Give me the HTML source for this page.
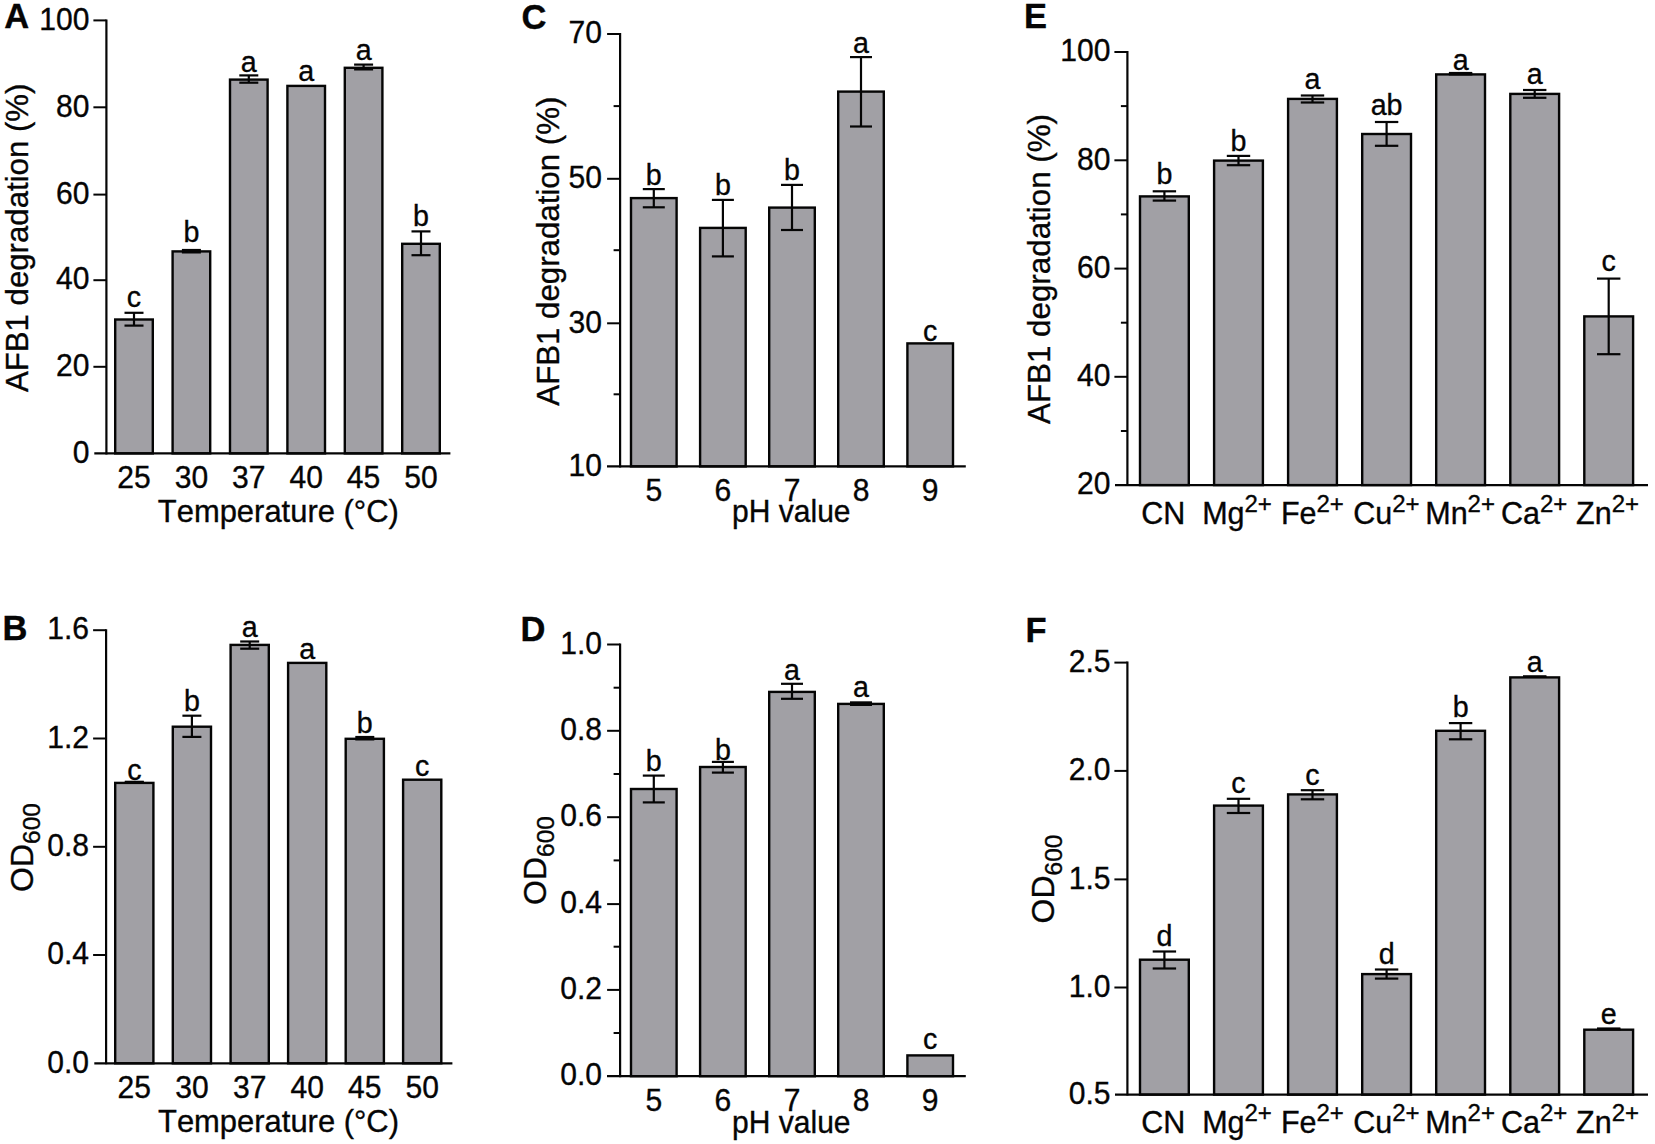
<!DOCTYPE html>
<html lang="en">
<head>
<meta charset="utf-8">
<title>AFB1 degradation and growth under different temperature, pH and metal ions</title>
<style>
html,body{margin:0;padding:0;background:#fff;}
body{width:1655px;height:1144px;overflow:hidden;}
svg{display:block;}
svg text{font-family:"Liberation Sans",Arial,Helvetica,sans-serif;fill:#050505;stroke:#050505;stroke-width:0.35px;font-kerning:none;}
</style>
</head>
<body>
<svg width="1655" height="1144" viewBox="0 0 1655 1144">
<rect x="0" y="0" width="1655" height="1144" fill="#ffffff"/>
<g class="panel-A">
<rect x="115.2" y="319.5" width="37.6" height="133.9" fill="#a1a0a5" stroke="#050505" stroke-width="2.4"/>
<line x1="134.0" y1="312.8" x2="134.0" y2="325.6" stroke="#050505" stroke-width="2.2"/>
<line x1="124.5" y1="312.8" x2="143.5" y2="312.8" stroke="#050505" stroke-width="2.2"/>
<line x1="124.5" y1="325.6" x2="143.5" y2="325.6" stroke="#050505" stroke-width="2.2"/>
<text transform="translate(134.0,307.0) scale(0.955,1)" font-size="30" text-anchor="middle">c</text>
<rect x="172.6" y="251.4" width="37.6" height="202.0" fill="#a1a0a5" stroke="#050505" stroke-width="2.4"/>
<line x1="191.4" y1="250.0" x2="191.4" y2="252.4" stroke="#050505" stroke-width="2.2"/>
<line x1="181.9" y1="250.0" x2="200.9" y2="250.0" stroke="#050505" stroke-width="2.2"/>
<line x1="181.9" y1="252.4" x2="200.9" y2="252.4" stroke="#050505" stroke-width="2.2"/>
<text transform="translate(191.4,241.8) scale(0.955,1)" font-size="30" text-anchor="middle">b</text>
<rect x="230.0" y="79.6" width="37.6" height="373.8" fill="#a1a0a5" stroke="#050505" stroke-width="2.4"/>
<line x1="248.8" y1="75.4" x2="248.8" y2="82.7" stroke="#050505" stroke-width="2.2"/>
<line x1="239.3" y1="75.4" x2="258.3" y2="75.4" stroke="#050505" stroke-width="2.2"/>
<line x1="239.3" y1="82.7" x2="258.3" y2="82.7" stroke="#050505" stroke-width="2.2"/>
<text transform="translate(248.8,72.0) scale(0.955,1)" font-size="30" text-anchor="middle">a</text>
<rect x="287.4" y="85.9" width="37.6" height="367.5" fill="#a1a0a5" stroke="#050505" stroke-width="2.4"/>
<text transform="translate(306.2,80.7) scale(0.955,1)" font-size="30" text-anchor="middle">a</text>
<rect x="344.8" y="67.8" width="37.6" height="385.6" fill="#a1a0a5" stroke="#050505" stroke-width="2.4"/>
<line x1="363.6" y1="64.6" x2="363.6" y2="69.4" stroke="#050505" stroke-width="2.2"/>
<line x1="354.1" y1="64.6" x2="373.1" y2="64.6" stroke="#050505" stroke-width="2.2"/>
<line x1="354.1" y1="69.4" x2="373.1" y2="69.4" stroke="#050505" stroke-width="2.2"/>
<text transform="translate(363.6,59.5) scale(0.955,1)" font-size="30" text-anchor="middle">a</text>
<rect x="402.2" y="243.8" width="37.6" height="209.6" fill="#a1a0a5" stroke="#050505" stroke-width="2.4"/>
<line x1="421.0" y1="231.4" x2="421.0" y2="255.2" stroke="#050505" stroke-width="2.2"/>
<line x1="411.5" y1="231.4" x2="430.5" y2="231.4" stroke="#050505" stroke-width="2.2"/>
<line x1="411.5" y1="255.2" x2="430.5" y2="255.2" stroke="#050505" stroke-width="2.2"/>
<text transform="translate(421.0,226.2) scale(0.955,1)" font-size="30" text-anchor="middle">b</text>
<line x1="106.4" y1="19.4" x2="106.4" y2="454.4" stroke="#050505" stroke-width="2.2"/>
<line x1="94.3" y1="453.4" x2="450.4" y2="453.4" stroke="#050505" stroke-width="2.2"/>
<text transform="translate(89.5,462.6) scale(0.955,1)" font-size="31.5" text-anchor="end">0</text>
<line x1="93.4" y1="366.8" x2="106.4" y2="366.8" stroke="#050505" stroke-width="2.0"/>
<text transform="translate(89.5,376.0) scale(0.955,1)" font-size="31.5" text-anchor="end">20</text>
<line x1="93.4" y1="280.2" x2="106.4" y2="280.2" stroke="#050505" stroke-width="2.0"/>
<text transform="translate(89.5,289.4) scale(0.955,1)" font-size="31.5" text-anchor="end">40</text>
<line x1="93.4" y1="194.6" x2="106.4" y2="194.6" stroke="#050505" stroke-width="2.0"/>
<text transform="translate(89.5,203.8) scale(0.955,1)" font-size="31.5" text-anchor="end">60</text>
<line x1="93.4" y1="107.3" x2="106.4" y2="107.3" stroke="#050505" stroke-width="2.0"/>
<text transform="translate(89.5,116.5) scale(0.955,1)" font-size="31.5" text-anchor="end">80</text>
<line x1="93.4" y1="20.4" x2="106.4" y2="20.4" stroke="#050505" stroke-width="2.0"/>
<text transform="translate(89.5,29.6) scale(0.955,1)" font-size="31.5" text-anchor="end">100</text>
<text transform="translate(134.0,488.0) scale(0.955,1)" font-size="31.5" text-anchor="middle">25</text>
<text transform="translate(191.4,488.0) scale(0.955,1)" font-size="31.5" text-anchor="middle">30</text>
<text transform="translate(248.8,488.0) scale(0.955,1)" font-size="31.5" text-anchor="middle">37</text>
<text transform="translate(306.2,488.0) scale(0.955,1)" font-size="31.5" text-anchor="middle">40</text>
<text transform="translate(363.6,488.0) scale(0.955,1)" font-size="31.5" text-anchor="middle">45</text>
<text transform="translate(421.0,488.0) scale(0.955,1)" font-size="31.5" text-anchor="middle">50</text>
<text transform="translate(278.3,521.5) scale(0.955,1)" font-size="32" text-anchor="middle" textLength="252.4" lengthAdjust="spacingAndGlyphs">Temperature (°C)</text>
<text transform="translate(27.8,237.8) rotate(-90) scale(1,0.955)" font-size="32" text-anchor="middle" textLength="308.5" lengthAdjust="spacingAndGlyphs">AFB1 degradation (%)</text>
<text x="4.2" y="28.4" font-size="34.5" font-weight="bold" text-anchor="start">A</text>
</g>
<g class="panel-B">
<rect x="115.2" y="782.9" width="38.2" height="280.4" fill="#a1a0a5" stroke="#050505" stroke-width="2.4"/>
<line x1="134.3" y1="781.8" x2="134.3" y2="782.4" stroke="#050505" stroke-width="2.2"/>
<line x1="124.8" y1="781.8" x2="143.8" y2="781.8" stroke="#050505" stroke-width="2.2"/>
<line x1="124.8" y1="782.4" x2="143.8" y2="782.4" stroke="#050505" stroke-width="2.2"/>
<text transform="translate(134.3,779.7) scale(0.955,1)" font-size="30" text-anchor="middle">c</text>
<rect x="172.8" y="726.7" width="38.2" height="336.6" fill="#a1a0a5" stroke="#050505" stroke-width="2.4"/>
<line x1="191.9" y1="715.7" x2="191.9" y2="736.9" stroke="#050505" stroke-width="2.2"/>
<line x1="182.4" y1="715.7" x2="201.4" y2="715.7" stroke="#050505" stroke-width="2.2"/>
<line x1="182.4" y1="736.9" x2="201.4" y2="736.9" stroke="#050505" stroke-width="2.2"/>
<text transform="translate(191.9,711.0) scale(0.955,1)" font-size="30" text-anchor="middle">b</text>
<rect x="230.6" y="644.9" width="38.2" height="418.4" fill="#a1a0a5" stroke="#050505" stroke-width="2.4"/>
<line x1="249.7" y1="641.5" x2="249.7" y2="648.7" stroke="#050505" stroke-width="2.2"/>
<line x1="240.2" y1="641.5" x2="259.2" y2="641.5" stroke="#050505" stroke-width="2.2"/>
<line x1="240.2" y1="648.7" x2="259.2" y2="648.7" stroke="#050505" stroke-width="2.2"/>
<text transform="translate(249.7,636.5) scale(0.955,1)" font-size="30" text-anchor="middle">a</text>
<rect x="288.1" y="662.9" width="38.2" height="400.4" fill="#a1a0a5" stroke="#050505" stroke-width="2.4"/>
<text transform="translate(307.2,658.5) scale(0.955,1)" font-size="30" text-anchor="middle">a</text>
<rect x="345.7" y="738.8" width="38.2" height="324.5" fill="#a1a0a5" stroke="#050505" stroke-width="2.4"/>
<line x1="364.8" y1="737.0" x2="364.8" y2="739.4" stroke="#050505" stroke-width="2.2"/>
<line x1="355.3" y1="737.0" x2="374.3" y2="737.0" stroke="#050505" stroke-width="2.2"/>
<line x1="355.3" y1="739.4" x2="374.3" y2="739.4" stroke="#050505" stroke-width="2.2"/>
<text transform="translate(364.8,733.2) scale(0.955,1)" font-size="30" text-anchor="middle">b</text>
<rect x="403.1" y="779.7" width="38.2" height="283.6" fill="#a1a0a5" stroke="#050505" stroke-width="2.4"/>
<text transform="translate(422.2,776.4) scale(0.955,1)" font-size="30" text-anchor="middle">c</text>
<line x1="106.1" y1="629.2" x2="106.1" y2="1064.3" stroke="#050505" stroke-width="2.2"/>
<line x1="94.3" y1="1063.3" x2="452.4" y2="1063.3" stroke="#050505" stroke-width="2.2"/>
<text transform="translate(89.0,1072.5) scale(0.955,1)" font-size="31.5" text-anchor="end">0.0</text>
<line x1="93.1" y1="955.0" x2="106.1" y2="955.0" stroke="#050505" stroke-width="2.0"/>
<text transform="translate(89.0,964.2) scale(0.955,1)" font-size="31.5" text-anchor="end">0.4</text>
<line x1="93.1" y1="846.8" x2="106.1" y2="846.8" stroke="#050505" stroke-width="2.0"/>
<text transform="translate(89.0,856.0) scale(0.955,1)" font-size="31.5" text-anchor="end">0.8</text>
<line x1="93.1" y1="738.5" x2="106.1" y2="738.5" stroke="#050505" stroke-width="2.0"/>
<text transform="translate(89.0,747.7) scale(0.955,1)" font-size="31.5" text-anchor="end">1.2</text>
<line x1="93.1" y1="630.2" x2="106.1" y2="630.2" stroke="#050505" stroke-width="2.0"/>
<text transform="translate(89.0,639.4) scale(0.955,1)" font-size="31.5" text-anchor="end">1.6</text>
<text transform="translate(134.3,1097.7) scale(0.955,1)" font-size="31.5" text-anchor="middle">25</text>
<text transform="translate(191.9,1097.7) scale(0.955,1)" font-size="31.5" text-anchor="middle">30</text>
<text transform="translate(249.7,1097.7) scale(0.955,1)" font-size="31.5" text-anchor="middle">37</text>
<text transform="translate(307.2,1097.7) scale(0.955,1)" font-size="31.5" text-anchor="middle">40</text>
<text transform="translate(364.8,1097.7) scale(0.955,1)" font-size="31.5" text-anchor="middle">45</text>
<text transform="translate(422.2,1097.7) scale(0.955,1)" font-size="31.5" text-anchor="middle">50</text>
<text transform="translate(278.5,1131.5) scale(0.955,1)" font-size="32" text-anchor="middle" textLength="252.4" lengthAdjust="spacingAndGlyphs">Temperature (°C)</text>
<text transform="translate(33.0,847.5) rotate(-90) scale(1,0.955)" font-size="32" text-anchor="middle">OD<tspan font-size="24.5" dy="7.8">600</tspan></text>
<text x="2.5" y="639.7" font-size="34.5" font-weight="bold" text-anchor="start">B</text>
</g>
<g class="panel-C">
<rect x="631.0" y="198.1" width="45.6" height="268.3" fill="#a1a0a5" stroke="#050505" stroke-width="2.4"/>
<line x1="653.8" y1="189.1" x2="653.8" y2="207.3" stroke="#050505" stroke-width="2.2"/>
<line x1="642.8" y1="189.1" x2="664.8" y2="189.1" stroke="#050505" stroke-width="2.2"/>
<line x1="642.8" y1="207.3" x2="664.8" y2="207.3" stroke="#050505" stroke-width="2.2"/>
<text transform="translate(653.8,184.5) scale(0.955,1)" font-size="30" text-anchor="middle">b</text>
<rect x="700.1" y="227.9" width="45.6" height="238.5" fill="#a1a0a5" stroke="#050505" stroke-width="2.4"/>
<line x1="722.9" y1="199.9" x2="722.9" y2="256.4" stroke="#050505" stroke-width="2.2"/>
<line x1="711.9" y1="199.9" x2="733.9" y2="199.9" stroke="#050505" stroke-width="2.2"/>
<line x1="711.9" y1="256.4" x2="733.9" y2="256.4" stroke="#050505" stroke-width="2.2"/>
<text transform="translate(722.9,195.2) scale(0.955,1)" font-size="30" text-anchor="middle">b</text>
<rect x="769.2" y="207.6" width="45.6" height="258.8" fill="#a1a0a5" stroke="#050505" stroke-width="2.4"/>
<line x1="792.0" y1="184.9" x2="792.0" y2="230.0" stroke="#050505" stroke-width="2.2"/>
<line x1="781.0" y1="184.9" x2="803.0" y2="184.9" stroke="#050505" stroke-width="2.2"/>
<line x1="781.0" y1="230.0" x2="803.0" y2="230.0" stroke="#050505" stroke-width="2.2"/>
<text transform="translate(792.0,179.5) scale(0.955,1)" font-size="30" text-anchor="middle">b</text>
<rect x="838.2" y="91.6" width="45.6" height="374.8" fill="#a1a0a5" stroke="#050505" stroke-width="2.4"/>
<line x1="861.0" y1="57.1" x2="861.0" y2="126.5" stroke="#050505" stroke-width="2.2"/>
<line x1="850.0" y1="57.1" x2="872.0" y2="57.1" stroke="#050505" stroke-width="2.2"/>
<line x1="850.0" y1="126.5" x2="872.0" y2="126.5" stroke="#050505" stroke-width="2.2"/>
<text transform="translate(861.0,53.2) scale(0.955,1)" font-size="30" text-anchor="middle">a</text>
<rect x="907.4" y="343.4" width="45.6" height="123.0" fill="#a1a0a5" stroke="#050505" stroke-width="2.4"/>
<text transform="translate(930.1,341.2) scale(0.955,1)" font-size="30" text-anchor="middle">c</text>
<line x1="620.1" y1="33.0" x2="620.1" y2="467.4" stroke="#050505" stroke-width="2.2"/>
<line x1="607.0" y1="466.4" x2="965.8" y2="466.4" stroke="#050505" stroke-width="2.2"/>
<text transform="translate(602.0,475.6) scale(0.955,1)" font-size="31.5" text-anchor="end">10</text>
<line x1="607.1" y1="323.3" x2="620.1" y2="323.3" stroke="#050505" stroke-width="2.0"/>
<text transform="translate(602.0,332.5) scale(0.955,1)" font-size="31.5" text-anchor="end">30</text>
<line x1="607.1" y1="178.8" x2="620.1" y2="178.8" stroke="#050505" stroke-width="2.0"/>
<text transform="translate(602.0,188.0) scale(0.955,1)" font-size="31.5" text-anchor="end">50</text>
<line x1="607.1" y1="34.0" x2="620.1" y2="34.0" stroke="#050505" stroke-width="2.0"/>
<text transform="translate(602.0,43.2) scale(0.955,1)" font-size="31.5" text-anchor="end">70</text>
<line x1="613.6" y1="394.3" x2="620.1" y2="394.3" stroke="#050505" stroke-width="2.0"/>
<line x1="613.6" y1="250.2" x2="620.1" y2="250.2" stroke="#050505" stroke-width="2.0"/>
<line x1="613.6" y1="106.1" x2="620.1" y2="106.1" stroke="#050505" stroke-width="2.0"/>
<text transform="translate(653.8,500.9) scale(0.955,1)" font-size="31.5" text-anchor="middle">5</text>
<text transform="translate(722.9,500.9) scale(0.955,1)" font-size="31.5" text-anchor="middle">6</text>
<text transform="translate(792.0,500.9) scale(0.955,1)" font-size="31.5" text-anchor="middle">7</text>
<text transform="translate(861.0,500.9) scale(0.955,1)" font-size="31.5" text-anchor="middle">8</text>
<text transform="translate(930.1,500.9) scale(0.955,1)" font-size="31.5" text-anchor="middle">9</text>
<text transform="translate(791.3,521.7) scale(0.955,1)" font-size="32" text-anchor="middle" textLength="124.1" lengthAdjust="spacingAndGlyphs">pH value</text>
<text transform="translate(558.7,251.2) rotate(-90) scale(1,0.955)" font-size="32" text-anchor="middle" textLength="309.0" lengthAdjust="spacingAndGlyphs">AFB1 degradation (%)</text>
<text x="521.5" y="28.8" font-size="34.5" font-weight="bold" text-anchor="start">C</text>
</g>
<g class="panel-D">
<rect x="631.0" y="789.0" width="45.6" height="287.2" fill="#a1a0a5" stroke="#050505" stroke-width="2.4"/>
<line x1="653.8" y1="775.6" x2="653.8" y2="802.4" stroke="#050505" stroke-width="2.2"/>
<line x1="642.8" y1="775.6" x2="664.8" y2="775.6" stroke="#050505" stroke-width="2.2"/>
<line x1="642.8" y1="802.4" x2="664.8" y2="802.4" stroke="#050505" stroke-width="2.2"/>
<text transform="translate(653.8,770.9) scale(0.955,1)" font-size="30" text-anchor="middle">b</text>
<rect x="700.1" y="767.0" width="45.6" height="309.2" fill="#a1a0a5" stroke="#050505" stroke-width="2.4"/>
<line x1="722.9" y1="761.9" x2="722.9" y2="772.6" stroke="#050505" stroke-width="2.2"/>
<line x1="711.9" y1="761.9" x2="733.9" y2="761.9" stroke="#050505" stroke-width="2.2"/>
<line x1="711.9" y1="772.6" x2="733.9" y2="772.6" stroke="#050505" stroke-width="2.2"/>
<text transform="translate(722.9,760.1) scale(0.955,1)" font-size="30" text-anchor="middle">b</text>
<rect x="769.2" y="691.9" width="45.6" height="384.3" fill="#a1a0a5" stroke="#050505" stroke-width="2.4"/>
<line x1="792.0" y1="683.8" x2="792.0" y2="698.8" stroke="#050505" stroke-width="2.2"/>
<line x1="781.0" y1="683.8" x2="803.0" y2="683.8" stroke="#050505" stroke-width="2.2"/>
<line x1="781.0" y1="698.8" x2="803.0" y2="698.8" stroke="#050505" stroke-width="2.2"/>
<text transform="translate(792.0,679.9) scale(0.955,1)" font-size="30" text-anchor="middle">a</text>
<rect x="838.2" y="703.9" width="45.6" height="372.3" fill="#a1a0a5" stroke="#050505" stroke-width="2.4"/>
<line x1="861.0" y1="702.4" x2="861.0" y2="704.9" stroke="#050505" stroke-width="2.2"/>
<line x1="850.0" y1="702.4" x2="872.0" y2="702.4" stroke="#050505" stroke-width="2.2"/>
<line x1="850.0" y1="704.9" x2="872.0" y2="704.9" stroke="#050505" stroke-width="2.2"/>
<text transform="translate(861.0,696.6) scale(0.955,1)" font-size="30" text-anchor="middle">a</text>
<rect x="907.4" y="1055.4" width="45.6" height="20.8" fill="#a1a0a5" stroke="#050505" stroke-width="2.4"/>
<text transform="translate(930.1,1048.9) scale(0.955,1)" font-size="30" text-anchor="middle">c</text>
<line x1="620.1" y1="643.5" x2="620.1" y2="1077.2" stroke="#050505" stroke-width="2.2"/>
<line x1="607.0" y1="1076.2" x2="965.8" y2="1076.2" stroke="#050505" stroke-width="2.2"/>
<text transform="translate(602.0,1085.4) scale(0.955,1)" font-size="31.5" text-anchor="end">0.0</text>
<line x1="607.1" y1="989.9" x2="620.1" y2="989.9" stroke="#050505" stroke-width="2.0"/>
<text transform="translate(602.0,999.1) scale(0.955,1)" font-size="31.5" text-anchor="end">0.2</text>
<line x1="607.1" y1="904.1" x2="620.1" y2="904.1" stroke="#050505" stroke-width="2.0"/>
<text transform="translate(602.0,913.3) scale(0.955,1)" font-size="31.5" text-anchor="end">0.4</text>
<line x1="607.1" y1="817.2" x2="620.1" y2="817.2" stroke="#050505" stroke-width="2.0"/>
<text transform="translate(602.0,826.4) scale(0.955,1)" font-size="31.5" text-anchor="end">0.6</text>
<line x1="607.1" y1="730.8" x2="620.1" y2="730.8" stroke="#050505" stroke-width="2.0"/>
<text transform="translate(602.0,740.0) scale(0.955,1)" font-size="31.5" text-anchor="end">0.8</text>
<line x1="607.1" y1="644.5" x2="620.1" y2="644.5" stroke="#050505" stroke-width="2.0"/>
<text transform="translate(602.0,653.7) scale(0.955,1)" font-size="31.5" text-anchor="end">1.0</text>
<line x1="613.6" y1="1033.0" x2="620.1" y2="1033.0" stroke="#050505" stroke-width="2.0"/>
<line x1="613.6" y1="946.7" x2="620.1" y2="946.7" stroke="#050505" stroke-width="2.0"/>
<line x1="613.6" y1="860.4" x2="620.1" y2="860.4" stroke="#050505" stroke-width="2.0"/>
<line x1="613.6" y1="774.0" x2="620.1" y2="774.0" stroke="#050505" stroke-width="2.0"/>
<line x1="613.6" y1="687.7" x2="620.1" y2="687.7" stroke="#050505" stroke-width="2.0"/>
<text transform="translate(653.8,1111.4) scale(0.955,1)" font-size="31.5" text-anchor="middle">5</text>
<text transform="translate(722.9,1111.4) scale(0.955,1)" font-size="31.5" text-anchor="middle">6</text>
<text transform="translate(792.0,1111.4) scale(0.955,1)" font-size="31.5" text-anchor="middle">7</text>
<text transform="translate(861.0,1111.4) scale(0.955,1)" font-size="31.5" text-anchor="middle">8</text>
<text transform="translate(930.1,1111.4) scale(0.955,1)" font-size="31.5" text-anchor="middle">9</text>
<text transform="translate(791.3,1132.6) scale(0.955,1)" font-size="32" text-anchor="middle" textLength="124.1" lengthAdjust="spacingAndGlyphs">pH value</text>
<text transform="translate(546.3,860.5) rotate(-90) scale(1,0.955)" font-size="32" text-anchor="middle">OD<tspan font-size="24.5" dy="7.8">600</tspan></text>
<text x="520.5" y="641.1" font-size="34.5" font-weight="bold" text-anchor="start">D</text>
</g>
<g class="panel-E">
<rect x="1140.0" y="196.4" width="48.8" height="288.7" fill="#a1a0a5" stroke="#050505" stroke-width="2.4"/>
<line x1="1164.4" y1="191.3" x2="1164.4" y2="200.6" stroke="#050505" stroke-width="2.2"/>
<line x1="1152.7" y1="191.3" x2="1176.1" y2="191.3" stroke="#050505" stroke-width="2.2"/>
<line x1="1152.7" y1="200.6" x2="1176.1" y2="200.6" stroke="#050505" stroke-width="2.2"/>
<text transform="translate(1164.4,183.6) scale(0.955,1)" font-size="30" text-anchor="middle">b</text>
<rect x="1214.1" y="160.6" width="48.8" height="324.5" fill="#a1a0a5" stroke="#050505" stroke-width="2.4"/>
<line x1="1238.5" y1="155.9" x2="1238.5" y2="165.2" stroke="#050505" stroke-width="2.2"/>
<line x1="1226.8" y1="155.9" x2="1250.2" y2="155.9" stroke="#050505" stroke-width="2.2"/>
<line x1="1226.8" y1="165.2" x2="1250.2" y2="165.2" stroke="#050505" stroke-width="2.2"/>
<text transform="translate(1238.5,151.2) scale(0.955,1)" font-size="30" text-anchor="middle">b</text>
<rect x="1288.1" y="98.9" width="48.8" height="386.2" fill="#a1a0a5" stroke="#050505" stroke-width="2.4"/>
<line x1="1312.5" y1="95.5" x2="1312.5" y2="102.5" stroke="#050505" stroke-width="2.2"/>
<line x1="1300.8" y1="95.5" x2="1324.2" y2="95.5" stroke="#050505" stroke-width="2.2"/>
<line x1="1300.8" y1="102.5" x2="1324.2" y2="102.5" stroke="#050505" stroke-width="2.2"/>
<text transform="translate(1312.5,88.8) scale(0.955,1)" font-size="30" text-anchor="middle">a</text>
<rect x="1362.2" y="134.0" width="48.8" height="351.1" fill="#a1a0a5" stroke="#050505" stroke-width="2.4"/>
<line x1="1386.6" y1="122.0" x2="1386.6" y2="145.8" stroke="#050505" stroke-width="2.2"/>
<line x1="1374.9" y1="122.0" x2="1398.3" y2="122.0" stroke="#050505" stroke-width="2.2"/>
<line x1="1374.9" y1="145.8" x2="1398.3" y2="145.8" stroke="#050505" stroke-width="2.2"/>
<text transform="translate(1386.6,115.1) scale(0.955,1)" font-size="30" text-anchor="middle">ab</text>
<rect x="1436.2" y="74.4" width="48.8" height="410.7" fill="#a1a0a5" stroke="#050505" stroke-width="2.4"/>
<line x1="1460.6" y1="73.0" x2="1460.6" y2="74.4" stroke="#050505" stroke-width="2.2"/>
<line x1="1448.9" y1="73.0" x2="1472.3" y2="73.0" stroke="#050505" stroke-width="2.2"/>
<line x1="1448.9" y1="74.4" x2="1472.3" y2="74.4" stroke="#050505" stroke-width="2.2"/>
<text transform="translate(1460.6,70.2) scale(0.955,1)" font-size="30" text-anchor="middle">a</text>
<rect x="1510.3" y="93.9" width="48.8" height="391.2" fill="#a1a0a5" stroke="#050505" stroke-width="2.4"/>
<line x1="1534.7" y1="90.0" x2="1534.7" y2="97.8" stroke="#050505" stroke-width="2.2"/>
<line x1="1523.0" y1="90.0" x2="1546.4" y2="90.0" stroke="#050505" stroke-width="2.2"/>
<line x1="1523.0" y1="97.8" x2="1546.4" y2="97.8" stroke="#050505" stroke-width="2.2"/>
<text transform="translate(1534.7,84.3) scale(0.955,1)" font-size="30" text-anchor="middle">a</text>
<rect x="1584.3" y="316.4" width="48.8" height="168.7" fill="#a1a0a5" stroke="#050505" stroke-width="2.4"/>
<line x1="1608.7" y1="278.6" x2="1608.7" y2="354.2" stroke="#050505" stroke-width="2.2"/>
<line x1="1597.0" y1="278.6" x2="1620.4" y2="278.6" stroke="#050505" stroke-width="2.2"/>
<line x1="1597.0" y1="354.2" x2="1620.4" y2="354.2" stroke="#050505" stroke-width="2.2"/>
<text transform="translate(1608.7,270.8) scale(0.955,1)" font-size="30" text-anchor="middle">c</text>
<line x1="1127.4" y1="51.0" x2="1127.4" y2="486.1" stroke="#050505" stroke-width="2.2"/>
<line x1="1115.0" y1="485.1" x2="1648.0" y2="485.1" stroke="#050505" stroke-width="2.2"/>
<text transform="translate(1110.5,494.3) scale(0.955,1)" font-size="31.5" text-anchor="end">20</text>
<line x1="1114.4" y1="376.8" x2="1127.4" y2="376.8" stroke="#050505" stroke-width="2.0"/>
<text transform="translate(1110.5,386.0) scale(0.955,1)" font-size="31.5" text-anchor="end">40</text>
<line x1="1114.4" y1="268.6" x2="1127.4" y2="268.6" stroke="#050505" stroke-width="2.0"/>
<text transform="translate(1110.5,277.8) scale(0.955,1)" font-size="31.5" text-anchor="end">60</text>
<line x1="1114.4" y1="160.3" x2="1127.4" y2="160.3" stroke="#050505" stroke-width="2.0"/>
<text transform="translate(1110.5,169.5) scale(0.955,1)" font-size="31.5" text-anchor="end">80</text>
<line x1="1114.4" y1="52.0" x2="1127.4" y2="52.0" stroke="#050505" stroke-width="2.0"/>
<text transform="translate(1110.5,61.2) scale(0.955,1)" font-size="31.5" text-anchor="end">100</text>
<line x1="1120.9" y1="431.0" x2="1127.4" y2="431.0" stroke="#050505" stroke-width="2.0"/>
<line x1="1120.9" y1="322.7" x2="1127.4" y2="322.7" stroke="#050505" stroke-width="2.0"/>
<line x1="1120.9" y1="214.4" x2="1127.4" y2="214.4" stroke="#050505" stroke-width="2.0"/>
<line x1="1120.9" y1="106.1" x2="1127.4" y2="106.1" stroke="#050505" stroke-width="2.0"/>
<text transform="translate(1163.2,524.2) scale(1.0,1)" font-size="30.5" text-anchor="middle">CN</text>
<text transform="translate(1237.0,524.2) scale(1.0,1)" font-size="30.5" text-anchor="middle">Mg<tspan font-size="24" dy="-12">2+</tspan></text>
<text transform="translate(1312.4,524.2) scale(1.0,1)" font-size="30.5" text-anchor="middle">Fe<tspan font-size="24" dy="-12">2+</tspan></text>
<text transform="translate(1386.4,524.2) scale(1.0,1)" font-size="30.5" text-anchor="middle">Cu<tspan font-size="24" dy="-12">2+</tspan></text>
<text transform="translate(1460.1,524.2) scale(1.0,1)" font-size="30.5" text-anchor="middle">Mn<tspan font-size="24" dy="-12">2+</tspan></text>
<text transform="translate(1534.1,524.2) scale(1.0,1)" font-size="30.5" text-anchor="middle">Ca<tspan font-size="24" dy="-12">2+</tspan></text>
<text transform="translate(1607.6,524.2) scale(1.0,1)" font-size="30.5" text-anchor="middle">Zn<tspan font-size="24" dy="-12">2+</tspan></text>
<text transform="translate(1049.7,269.0) rotate(-90) scale(1,0.955)" font-size="32" text-anchor="middle" textLength="310.0" lengthAdjust="spacingAndGlyphs">AFB1 degradation (%)</text>
<text x="1024.0" y="28.0" font-size="34.5" font-weight="bold" text-anchor="start">E</text>
</g>
<g class="panel-F">
<rect x="1140.0" y="959.7" width="48.8" height="134.9" fill="#a1a0a5" stroke="#050505" stroke-width="2.4"/>
<line x1="1164.4" y1="951.5" x2="1164.4" y2="968.5" stroke="#050505" stroke-width="2.2"/>
<line x1="1152.7" y1="951.5" x2="1176.1" y2="951.5" stroke="#050505" stroke-width="2.2"/>
<line x1="1152.7" y1="968.5" x2="1176.1" y2="968.5" stroke="#050505" stroke-width="2.2"/>
<text transform="translate(1164.4,945.7) scale(0.955,1)" font-size="30" text-anchor="middle">d</text>
<rect x="1214.1" y="805.6" width="48.8" height="289.0" fill="#a1a0a5" stroke="#050505" stroke-width="2.4"/>
<line x1="1238.5" y1="798.8" x2="1238.5" y2="813.0" stroke="#050505" stroke-width="2.2"/>
<line x1="1226.8" y1="798.8" x2="1250.2" y2="798.8" stroke="#050505" stroke-width="2.2"/>
<line x1="1226.8" y1="813.0" x2="1250.2" y2="813.0" stroke="#050505" stroke-width="2.2"/>
<text transform="translate(1238.5,793.1) scale(0.955,1)" font-size="30" text-anchor="middle">c</text>
<rect x="1288.1" y="794.4" width="48.8" height="300.2" fill="#a1a0a5" stroke="#050505" stroke-width="2.4"/>
<line x1="1312.5" y1="790.2" x2="1312.5" y2="799.3" stroke="#050505" stroke-width="2.2"/>
<line x1="1300.8" y1="790.2" x2="1324.2" y2="790.2" stroke="#050505" stroke-width="2.2"/>
<line x1="1300.8" y1="799.3" x2="1324.2" y2="799.3" stroke="#050505" stroke-width="2.2"/>
<text transform="translate(1312.5,784.8) scale(0.955,1)" font-size="30" text-anchor="middle">c</text>
<rect x="1362.2" y="974.1" width="48.8" height="120.5" fill="#a1a0a5" stroke="#050505" stroke-width="2.4"/>
<line x1="1386.6" y1="969.5" x2="1386.6" y2="978.6" stroke="#050505" stroke-width="2.2"/>
<line x1="1374.9" y1="969.5" x2="1398.3" y2="969.5" stroke="#050505" stroke-width="2.2"/>
<line x1="1374.9" y1="978.6" x2="1398.3" y2="978.6" stroke="#050505" stroke-width="2.2"/>
<text transform="translate(1386.6,964.0) scale(0.955,1)" font-size="30" text-anchor="middle">d</text>
<rect x="1436.2" y="730.8" width="48.8" height="363.8" fill="#a1a0a5" stroke="#050505" stroke-width="2.4"/>
<line x1="1460.6" y1="723.1" x2="1460.6" y2="739.3" stroke="#050505" stroke-width="2.2"/>
<line x1="1448.9" y1="723.1" x2="1472.3" y2="723.1" stroke="#050505" stroke-width="2.2"/>
<line x1="1448.9" y1="739.3" x2="1472.3" y2="739.3" stroke="#050505" stroke-width="2.2"/>
<text transform="translate(1460.6,716.9) scale(0.955,1)" font-size="30" text-anchor="middle">b</text>
<rect x="1510.3" y="677.4" width="48.8" height="417.2" fill="#a1a0a5" stroke="#050505" stroke-width="2.4"/>
<line x1="1534.7" y1="676.4" x2="1534.7" y2="676.8" stroke="#050505" stroke-width="2.2"/>
<line x1="1523.0" y1="676.4" x2="1546.4" y2="676.4" stroke="#050505" stroke-width="2.2"/>
<line x1="1523.0" y1="676.8" x2="1546.4" y2="676.8" stroke="#050505" stroke-width="2.2"/>
<text transform="translate(1534.7,672.1) scale(0.955,1)" font-size="30" text-anchor="middle">a</text>
<rect x="1584.3" y="1029.7" width="48.8" height="64.9" fill="#a1a0a5" stroke="#050505" stroke-width="2.4"/>
<line x1="1608.7" y1="1028.5" x2="1608.7" y2="1029.3" stroke="#050505" stroke-width="2.2"/>
<line x1="1597.0" y1="1028.5" x2="1620.4" y2="1028.5" stroke="#050505" stroke-width="2.2"/>
<line x1="1597.0" y1="1029.3" x2="1620.4" y2="1029.3" stroke="#050505" stroke-width="2.2"/>
<text transform="translate(1608.7,1023.5) scale(0.955,1)" font-size="30" text-anchor="middle">e</text>
<line x1="1127.4" y1="661.6" x2="1127.4" y2="1095.6" stroke="#050505" stroke-width="2.2"/>
<line x1="1115.0" y1="1094.6" x2="1648.0" y2="1094.6" stroke="#050505" stroke-width="2.2"/>
<text transform="translate(1110.5,1103.8) scale(0.955,1)" font-size="31.5" text-anchor="end">0.5</text>
<line x1="1114.4" y1="987.5" x2="1127.4" y2="987.5" stroke="#050505" stroke-width="2.0"/>
<text transform="translate(1110.5,996.7) scale(0.955,1)" font-size="31.5" text-anchor="end">1.0</text>
<line x1="1114.4" y1="879.4" x2="1127.4" y2="879.4" stroke="#050505" stroke-width="2.0"/>
<text transform="translate(1110.5,888.6) scale(0.955,1)" font-size="31.5" text-anchor="end">1.5</text>
<line x1="1114.4" y1="770.9" x2="1127.4" y2="770.9" stroke="#050505" stroke-width="2.0"/>
<text transform="translate(1110.5,780.1) scale(0.955,1)" font-size="31.5" text-anchor="end">2.0</text>
<line x1="1114.4" y1="662.6" x2="1127.4" y2="662.6" stroke="#050505" stroke-width="2.0"/>
<text transform="translate(1110.5,671.8) scale(0.955,1)" font-size="31.5" text-anchor="end">2.5</text>
<text transform="translate(1163.2,1133.2) scale(1.0,1)" font-size="30.5" text-anchor="middle">CN</text>
<text transform="translate(1237.0,1133.2) scale(1.0,1)" font-size="30.5" text-anchor="middle">Mg<tspan font-size="24" dy="-12">2+</tspan></text>
<text transform="translate(1312.4,1133.2) scale(1.0,1)" font-size="30.5" text-anchor="middle">Fe<tspan font-size="24" dy="-12">2+</tspan></text>
<text transform="translate(1386.4,1133.2) scale(1.0,1)" font-size="30.5" text-anchor="middle">Cu<tspan font-size="24" dy="-12">2+</tspan></text>
<text transform="translate(1460.1,1133.2) scale(1.0,1)" font-size="30.5" text-anchor="middle">Mn<tspan font-size="24" dy="-12">2+</tspan></text>
<text transform="translate(1534.1,1133.2) scale(1.0,1)" font-size="30.5" text-anchor="middle">Ca<tspan font-size="24" dy="-12">2+</tspan></text>
<text transform="translate(1607.6,1133.2) scale(1.0,1)" font-size="30.5" text-anchor="middle">Zn<tspan font-size="24" dy="-12">2+</tspan></text>
<text transform="translate(1054.2,879.0) rotate(-90) scale(1,0.955)" font-size="32" text-anchor="middle">OD<tspan font-size="24.5" dy="7.8">600</tspan></text>
<text x="1025.5" y="642.0" font-size="34.5" font-weight="bold" text-anchor="start">F</text>
</g>
</svg>
</body>
</html>
